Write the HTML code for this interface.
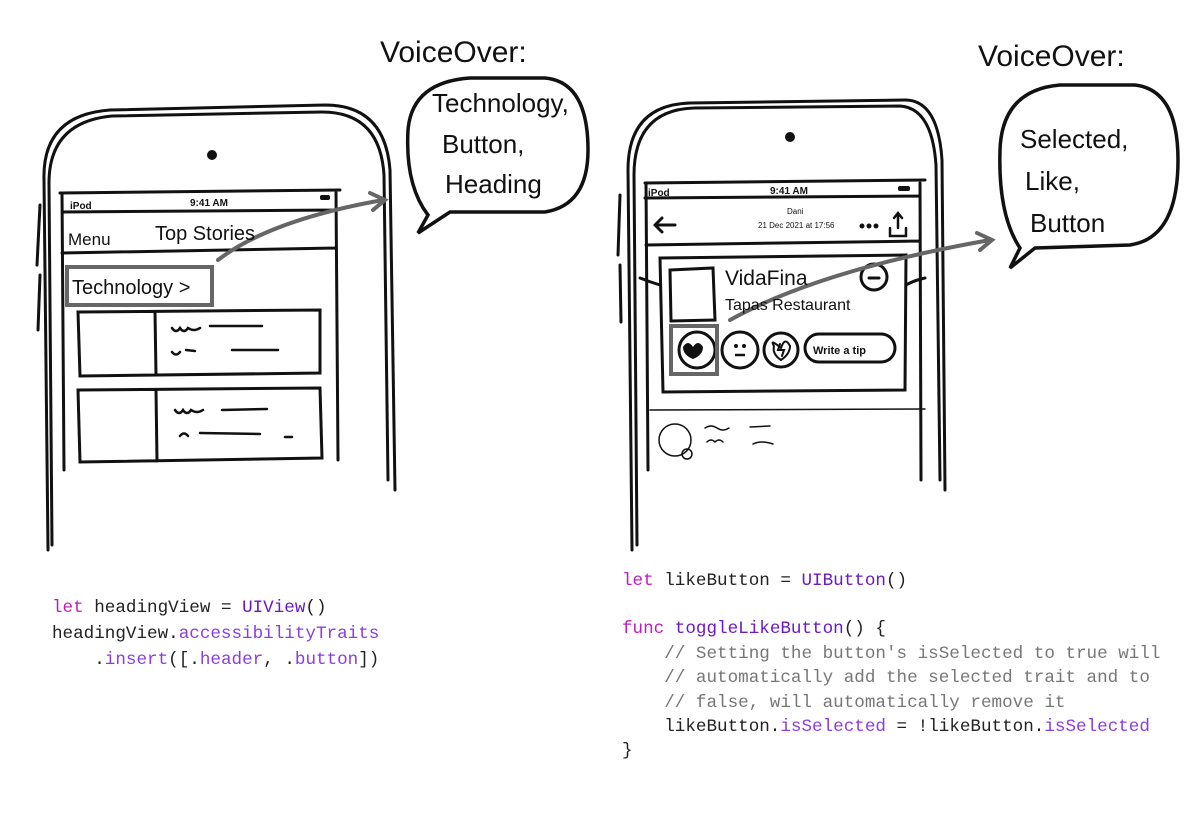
<!DOCTYPE html>
<html><head><meta charset="utf-8"><style>
body{margin:0;background:#fff}
svg{display:block}
.c{font-family:"Liberation Mono",monospace;font-size:17.6px;fill:#222}
.k{fill:#c01cb8}.t{fill:#6a19c4}.p{fill:#8a3ee0}.g{fill:#777}
.h{font-family:"Liberation Sans",sans-serif;fill:#111}
</style></head><body>
<svg width="1200" height="838" viewBox="0 0 1200 838">
<g fill="none" stroke="#111" stroke-width="3" stroke-linecap="round">
<!-- left phone -->
<path d="M48 550 L44 180 Q42 115 110 110 L325 105 Q385 105 390 170 L395 490"/>
<path d="M52 545 L49 185 Q48 122 112 116 L322 112 Q380 112 384 175 L388 480"/>
<path d="M40 205 L37 265 M40 275 L38 330"/>
<path d="M60 193 L340 190 M62 212 L336 210 M62 253 L336 248 M62 193 L64 470 M336 192 L338 460"/>
<path d="M78 312 L320 310 L320 373 L80 376 Z M155 312 L156 375"/>
<path d="M78 390 L320 388 L322 458 L80 462 Z M156 390 L157 461"/>
<path d="M172 328 q4 6 8 0 q4 6 8 0 q6 4 12 0 M210 326 L262 326 M172 352 q4 5 8 0 M186 350 L195 351 M232 350 L278 350" stroke-width="2.5"/>
<path d="M175 410 q4 6 8 0 q4 6 8 0 q6 4 12 0 M222 410 L267 409 M180 436 q4 -5 8 0 M200 433 L260 434 M285 437 L292 437" stroke-width="2.5"/>
<!-- right phone -->
<path d="M632 550 L628 170 Q628 105 690 103 L905 100 Q938 100 942 160 L945 490"/>
<path d="M637 545 L634 175 Q634 110 694 108 L900 106 Q932 108 936 165 L940 480"/>
<path d="M620 195 L618 255 M620 265 L621 322"/>
<path d="M645 183 L925 180 M645 198 L920 196 M646 245 L920 241 M646 183 L648 470 M920 183 L921 480"/>
<path d="M660 258 L906 255 L905 390 L663 392 Z"/>
<path d="M640 278 Q650 282 660 285 M906 285 Q915 280 925 278"/>
<path d="M670 270 L713 268 L715 320 L671 321 Z"/>
<circle cx="697" cy="350" r="18"/><circle cx="740" cy="350" r="18"/><circle cx="781" cy="350" r="17"/>
<rect x="805" y="334" width="90" height="28" rx="14"/>
<circle cx="874" cy="277" r="13"/><path d="M869 278 L879 278"/>
<path d="M650 410 L925 409" stroke-width="1.5"/>
<circle cx="675" cy="440" r="16" stroke-width="1.5"/><circle cx="687" cy="454" r="5" stroke-width="1.5"/>
<path d="M705 428 q6 -4 12 0 q6 4 12 0 M750 427 L770 426 M707 442 q4 -4 8 0 q4 -4 8 0 M753 444 q8 -4 20 0" stroke-width="1.5"/>
<path d="M655 225 L675 225 M655 225 L662 218 M655 225 L662 232"/>
<path d="M890 228 L890 236 L906 236 L906 228 M898 214 L898 228 M894 218 L898 213 L902 218" stroke-width="2.5"/>
<path d="M774 346 q-5 -8 7 2 q4 -12 9 -2 q0 8 -9 14 q-9 -6 -7 -14Z M780 344 L778 350 L784 350 L782 356" stroke-width="2"/>
<!-- bubbles -->
<path d="M418 233 L428 215 Q405 185 408 130 Q412 82 470 78 L545 78 Q588 82 588 150 Q588 205 545 212 L450 212 Z" stroke-width="3.5"/>
<path d="M1010 268 L1020 248 Q998 215 1000 150 Q1002 90 1060 85 L1135 85 Q1178 90 1178 160 Q1178 238 1130 245 L1035 248 Z" stroke-width="3.5"/>
</g>
<path d="M693 347 q-5 -8 -10 0 q0 8 10 12 q10 -4 10 -12 q-5 -8 -10 0Z" fill="#111"/>
<circle cx="736" cy="346" r="2" fill="#111"/><circle cx="744" cy="346" r="2" fill="#111"/>
<path d="M735 355 L745 355" stroke="#111" stroke-width="2.5"/>
<circle cx="212" cy="155" r="5" fill="#111"/><circle cx="790" cy="137" r="5" fill="#111"/>
<rect x="320" y="195" width="10" height="5" rx="2" fill="#111"/><rect x="898" y="186" width="12" height="5" rx="2" fill="#111"/>
<circle cx="862" cy="226" r="2.5" fill="#111"/><circle cx="869" cy="226" r="2.5" fill="#111"/><circle cx="876" cy="226" r="2.5" fill="#111"/>
<!-- gray highlights & arrows -->
<g fill="none" stroke="#666" stroke-width="4" stroke-linecap="round">
<rect x="67" y="267" width="145" height="38"/>
<rect x="671" y="326" width="46" height="48"/>
<path d="M218 260 Q270 220 383 200 M370 193 L385 200 L373 210"/>
<path d="M730 320 Q820 270 990 240 M977 233 L992 240 L980 250"/>
</g>
<!-- handwriting text -->
<g class="h">
<text x="70" y="209" font-size="10" font-weight="bold">iPod</text>
<text x="190" y="206" font-size="10" font-weight="bold">9:41 AM</text>
<text x="68" y="245" font-size="17">Menu</text>
<text x="155" y="240" font-size="20">Top Stories</text>
<text x="72" y="294" font-size="20">Technology &gt;</text>
<text x="648" y="196" font-size="10" font-weight="bold">iPod</text>
<text x="770" y="194" font-size="10" font-weight="bold">9:41 AM</text>
<text x="787" y="214" font-size="8">Dani</text>
<text x="758" y="228" font-size="8">21 Dec 2021 at 17:56</text>
<text x="725" y="285" font-size="21">VidaFina</text>
<text x="725" y="310" font-size="16">Tapas Restaurant</text>
<text x="813" y="354" font-size="11" font-weight="bold">Write a tip</text>
<text x="380" y="62" font-size="30">VoiceOver:</text>
<text x="978" y="66" font-size="30">VoiceOver:</text>
<text x="432" y="112" font-size="26">Technology,</text>
<text x="442" y="153" font-size="26">Button,</text>
<text x="445" y="193" font-size="26">Heading</text>
<text x="1020" y="148" font-size="26">Selected,</text>
<text x="1025" y="190" font-size="26">Like,</text>
<text x="1030" y="232" font-size="26">Button</text>
</g>
<!-- code -->
<text class="c" x="52" y="612"><tspan class="k">let</tspan> headingView = <tspan class="t">UIView</tspan>()</text>
<text class="c" x="52" y="638">headingView.<tspan class="p">accessibilityTraits</tspan></text>
<text class="c" x="52" y="664" xml:space="preserve">    .<tspan class="p">insert</tspan>([.<tspan class="p">header</tspan>, .<tspan class="p">button</tspan>])</text>
<text class="c" x="622" y="585"><tspan class="k">let</tspan> likeButton = <tspan class="t">UIButton</tspan>()</text>
<text class="c" x="622" y="633"><tspan class="k">func</tspan> <tspan class="t">toggleLikeButton</tspan>() {</text>
<text class="c g" x="622" y="658" xml:space="preserve">    // Setting the button's isSelected to true will</text>
<text class="c g" x="622" y="682" xml:space="preserve">    // automatically add the selected trait and to</text>
<text class="c g" x="622" y="707" xml:space="preserve">    // false, will automatically remove it</text>
<text class="c" x="622" y="731" xml:space="preserve">    likeButton.<tspan class="p">isSelected</tspan> = !likeButton.<tspan class="p">isSelected</tspan></text>
<text class="c" x="622" y="755">}</text>
</svg>
</body></html>
